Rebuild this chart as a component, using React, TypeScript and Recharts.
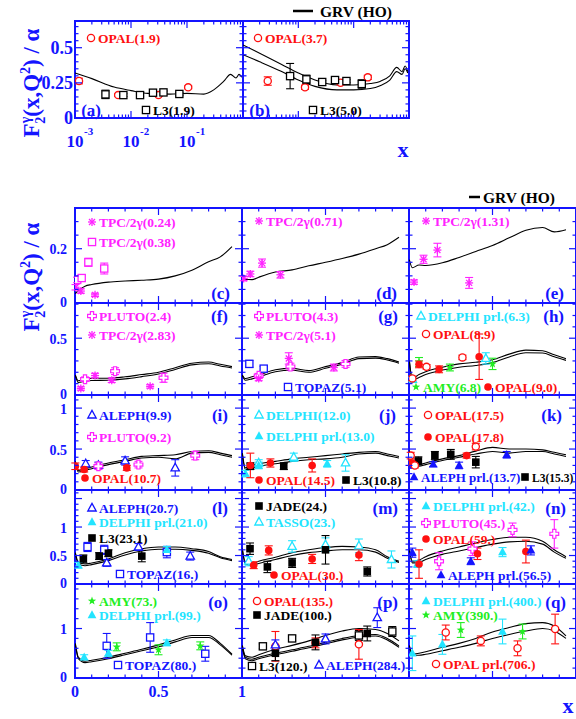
import React from 'react';
import { ComposedChart, Line, Scatter, XAxis, YAxis, ErrorBar, ReferenceArea } from 'recharts';

const BLUE = '#1414ff';
const RED = '#ff1010';
const MAG = '#ff22ff';
const CYAN = '#22e4ff';
const GREEN = '#22ee22';
const BLACK = '#000000';
const FONT = '"Liberation Serif", "DejaVu Serif", serif';

// x grids of the GRV (HO) curves
const LOG_X = [0.001, 0.002, 0.005, 0.01, 0.02, 0.05, 0.1, 0.2, 0.3, 0.45, 0.6, 0.75, 0.85, 0.95];
const LIN_X = [0.002, 0.02, 0.06, 0.1, 0.2, 0.3, 0.4, 0.5, 0.6, 0.7, 0.8, 0.87, 0.94];

// axis ticks
const LOG_TICKS = [0.001, 0.002, 0.003, 0.004, 0.005, 0.006, 0.007, 0.008, 0.009, 0.01, 0.02, 0.03, 0.04, 0.05, 0.06, 0.07, 0.08, 0.09, 0.1, 0.2, 0.3, 0.4, 0.5, 0.6, 0.7, 0.8, 0.9, 1];
const LOG_MAJOR = [0.001, 0.01, 0.1, 1];
const LOG_LABELS = [0.001, 0.01, 0.1];
const LIN_TICKS = [0, 0.1, 0.2, 0.3, 0.4, 0.5, 0.6, 0.7, 0.8, 0.9, 1];
const LIN_MAJOR = [0, 0.5, 1];
const LIN_LABELS = [0, 0.5, 1];
const Y_TOP = [0, 0.05, 0.1, 0.15, 0.2, 0.25, 0.3, 0.35, 0.4, 0.45, 0.5, 0.55, 0.6, 0.65];
const Y_R1 = [0, 0.05, 0.1, 0.15, 0.2, 0.25, 0.3];
const Y_R2 = [0, 0.1, 0.2, 0.3, 0.4, 0.5, 0.6, 0.7, 0.8];
const Y_R3 = [0, 0.1, 0.2, 0.3, 0.4, 0.5, 0.6, 0.7, 0.8, 0.9, 1, 1.1];
const Y_R4 = [0, 0.1, 0.2, 0.3, 0.4, 0.5, 0.6, 0.7, 0.8, 0.9, 1, 1.1, 1.2, 1.3, 1.4, 1.5, 1.6];
const Y_R5 = [0, 0.2, 0.4, 0.6, 0.8, 1, 1.2, 1.4, 1.6, 1.8];

// GRV (HO) curves
const GRV_A = [0.32, 0.28, 0.22, 0.195, 0.175, 0.17, 0.175, 0.17, 0.2, 0.26, 0.31, 0.285, 0.31, 0.29];
const GRV_B_UP = [0.52, 0.46, 0.38, 0.32, 0.27, 0.235, 0.235, 0.245, 0.26, 0.3, 0.36, 0.33, 0.37, 0.33];
const GRV_B_LO = [0.45, 0.4, 0.33, 0.27, 0.225, 0.2, 0.2, 0.21, 0.23, 0.27, 0.33, 0.31, 0.35, 0.32];
const GRV_C = [0.035, 0.046, 0.062, 0.068, 0.077, 0.081, 0.084, 0.088, 0.1, 0.121, 0.152, 0.17, 0.208];
const GRV_D = [0.084, 0.087, 0.086, 0.095, 0.114, 0.122, 0.137, 0.15, 0.164, 0.18, 0.2, 0.215, 0.242];
const GRV_E = [0.16, 0.13, 0.14, 0.138, 0.148, 0.168, 0.19, 0.212, 0.24, 0.268, 0.278, 0.262, 0.27];
const GRV_F_UP = [0.177, 0.125, 0.142, 0.148, 0.148, 0.16, 0.18, 0.2, 0.24, 0.28, 0.29, 0.27, 0.25];
const GRV_F_LO = [0.17, 0.11, 0.122, 0.128, 0.13, 0.142, 0.162, 0.185, 0.225, 0.265, 0.275, 0.255, 0.238];
const GRV_G_UP = [0.177, 0.145, 0.16, 0.175, 0.222, 0.234, 0.215, 0.25, 0.285, 0.335, 0.338, 0.32, 0.29];
const GRV_G_LO = [0.17, 0.13, 0.142, 0.158, 0.205, 0.218, 0.2, 0.235, 0.27, 0.32, 0.325, 0.308, 0.28];
const GRV_H_UP = [0.305, 0.146, 0.18, 0.205, 0.245, 0.274, 0.288, 0.31, 0.36, 0.395, 0.39, 0.354, 0.32];
const GRV_H_LO = [0.3, 0.13, 0.155, 0.18, 0.22, 0.245, 0.26, 0.285, 0.335, 0.372, 0.37, 0.336, 0.305];
const GRV_I_UP = [0.35, 0.24, 0.26, 0.28, 0.33, 0.37, 0.41, 0.42, 0.43, 0.47, 0.48, 0.45, 0.42];
const GRV_I_LO = [0.34, 0.22, 0.24, 0.26, 0.31, 0.35, 0.39, 0.4, 0.38, 0.45, 0.46, 0.43, 0.4];
const GRV_J_UP = [0.45, 0.27, 0.3, 0.32, 0.35, 0.38, 0.4, 0.42, 0.44, 0.46, 0.47, 0.44, 0.41];
const GRV_J_LO = [0.44, 0.25, 0.27, 0.29, 0.32, 0.35, 0.37, 0.38, 0.4, 0.44, 0.45, 0.42, 0.39];
const GRV_K_UP = [0.48, 0.33, 0.31, 0.33, 0.38, 0.42, 0.475, 0.52, 0.5, 0.5, 0.49, 0.46, 0.43];
const GRV_K_LO = [0.47, 0.31, 0.29, 0.31, 0.36, 0.4, 0.44, 0.47, 0.45, 0.47, 0.47, 0.44, 0.41];
const GRV_L_UP = [0.55, 0.38, 0.35, 0.37, 0.44, 0.55, 0.62, 0.65, 0.65, 0.62, 0.57, 0.48, 0.43];
const GRV_L_LO = [0.54, 0.35, 0.32, 0.34, 0.41, 0.51, 0.58, 0.61, 0.61, 0.59, 0.54, 0.46, 0.41];
const GRV_M_UP = [0.62, 0.38, 0.36, 0.4, 0.47, 0.55, 0.6, 0.64, 0.66, 0.65, 0.6, 0.48, 0.4];
const GRV_M_LO = [0.6, 0.35, 0.33, 0.36, 0.43, 0.5, 0.55, 0.58, 0.6, 0.6, 0.56, 0.45, 0.38];
const GRV_N_UP = [0.62, 0.4, 0.42, 0.48, 0.58, 0.65, 0.72, 0.78, 0.82, 0.82, 0.75, 0.6, 0.48];
const GRV_N_LO = [0.6, 0.37, 0.38, 0.43, 0.52, 0.58, 0.64, 0.7, 0.74, 0.75, 0.7, 0.56, 0.45];
const GRV_O_UP = [0.7, 0.42, 0.34, 0.36, 0.42, 0.5, 0.58, 0.67, 0.77, 0.86, 0.86, 0.7, 0.48];
const GRV_O_LO = [0.68, 0.39, 0.31, 0.33, 0.39, 0.47, 0.55, 0.63, 0.73, 0.82, 0.82, 0.67, 0.46];
const GRV_P_TOP = [0.66, 0.45, 0.42, 0.47, 0.58, 0.66, 0.75, 0.86, 0.95, 1.0, 0.98, 0.9, 0.75];
const GRV_P_UP = [0.64, 0.42, 0.38, 0.42, 0.5, 0.57, 0.64, 0.72, 0.8, 0.86, 0.88, 0.8, 0.65];
const GRV_P_LO = [0.62, 0.39, 0.35, 0.39, 0.47, 0.54, 0.61, 0.69, 0.77, 0.83, 0.85, 0.77, 0.62];
const GRV_Q_UP = [0.66, 0.48, 0.5, 0.53, 0.62, 0.7, 0.8, 0.93, 1.02, 1.1, 1.12, 1.05, 0.85];
const GRV_Q_LO = [0.64, 0.46, 0.46, 0.48, 0.55, 0.62, 0.7, 0.8, 0.88, 0.95, 1.0, 0.95, 0.8];

// measurements [x, F2/alpha, error]
const A_OPAL = [[0.00118, 0.263, 0.02], [0.0059, 0.163, 0.01], [0.031, 0.163, 0.01], [0.105, 0.218, 0.01]];
const A_L3 = [[0.0035, 0.168, 0.03], [0.0073, 0.163, 0.01], [0.0145, 0.163, 0.01], [0.0247, 0.18, 0.01], [0.038, 0.182, 0.01], [0.073, 0.171, 0.01]];
const B_OPAL = [[0.0028, 0.263, 0.03], [0.0132, 0.218, 0.015], [0.058, 0.251, 0.015], [0.18, 0.289, 0.015]];
const B_L3 = [[0.0071, 0.298, 0.09], [0.014, 0.275, 0.03], [0.027, 0.256, 0.01], [0.046, 0.27, 0.01], [0.074, 0.263, 0.01], [0.14, 0.242, 0.03]];
const C_TPC024 = [[0.003, 0.058, 0.01], [0.035, 0.044, 0.008], [0.12, 0.03, 0.006]];
const C_TPC038 = [[0.013, 0.085, 0.01], [0.04, 0.092, 0.01], [0.08, 0.15, 0.015], [0.175, 0.127, 0.02]];
const D_TPC071 = [[0.01, 0.09, 0.008], [0.05, 0.107, 0.01], [0.12, 0.147, 0.015], [0.23, 0.104, 0.012]];
const E_TPC131 = [[0.03, 0.077, 0.008], [0.087, 0.161, 0.015], [0.17, 0.195, 0.025], [0.36, 0.074, 0.02]];
const F_PLUTO = [[0.06, 0.139, 0.02], [0.24, 0.21, 0.03], [0.53, 0.152, 0.04]];
const F_TPC = [[0.035, 0.057, 0.015], [0.12, 0.171, 0.02], [0.22, 0.13, 0.02], [0.45, 0.076, 0.015]];
const G_PLUTO = [[0.1, 0.17, 0.02], [0.29, 0.25, 0.03], [0.62, 0.274, 0.03]];
const G_TPC = [[0.1, 0.146, 0.02], [0.28, 0.322, 0.05], [0.55, 0.242, 0.03]];
const G_TOPAZ = [[0.044, 0.274, 0.03], [0.13, 0.232, 0.02]];
const H_DELPHI = [[0.02, 0.138, 0.02], [0.46, 0.322, 0.05]];
const H_OPAL89 = [[0.02, 0.146, 0.02], [0.105, 0.248, 0.02], [0.32, 0.331, 0.02]];
const H_AMY = [[0.06, 0.29, 0.04], [0.245, 0.242, 0.03], [0.5, 0.274, 0.05]];
const H_OPAL90 = [[0.06, 0.27, 0.03], [0.18, 0.226, 0.03], [0.42, 0.337, 0.2]];
const I_ALEPH = [[0.064, 0.32, 0.04], [0.14, 0.3, 0.04], [0.3, 0.355, 0.05], [0.6, 0.27, 0.1]];
const I_PLUTO = [[0.14, 0.29, 0.04], [0.38, 0.31, 0.04], [0.72, 0.42, 0.05]];
const I_OPAL = [[0.002, 0.29, 0.04], [0.055, 0.25, 0.03], [0.31, 0.27, 0.03]];
const J_DELPHI = [[0.1, 0.33, 0.04], [0.31, 0.4, 0.05], [0.62, 0.33, 0.1]];
const J_DELPHIPRL = [[0.02, 0.2, 0.04], [0.1, 0.3, 0.04], [0.51, 0.32, 0.04]];
const J_OPAL = [[0.05, 0.3, 0.15], [0.17, 0.33, 0.05], [0.42, 0.3, 0.08]];
const J_L3 = [[0.05, 0.29, 0.04], [0.25, 0.29, 0.04]];
const K_OPAL175 = [[0.01, 0.42, 0.04], [0.035, 0.3, 0.03], [0.4, 0.53, 0.04]];
const K_OPAL178 = [[0.02, 0.33, 0.03], [0.345, 0.42, 0.03]];
const K_ALEPH = [[0.02, 0.3, 0.03], [0.145, 0.315, 0.03], [0.3, 0.3, 0.04], [0.585, 0.43, 0.04]];
const K_L3 = [[0.056, 0.355, 0.05], [0.155, 0.42, 0.05], [0.25, 0.435, 0.06], [0.4, 0.34, 0.07]];
const L_ALEPH = [[0.19, 0.37, 0.06], [0.38, 0.65, 0.06], [0.69, 0.49, 0.07]];
const L_DELPHI = [[0.02, 0.33, 0.05], [0.55, 0.6, 0.06]];
const L_L3 = [[0.05, 0.44, 0.07], [0.145, 0.49, 0.06], [0.2, 0.54, 0.06], [0.4, 0.49, 0.1]];
const L_TOPAZ = [[0.075, 0.65, 0.08], [0.175, 0.6, 0.08], [0.55, 0.56, 0.1]];
const M_JADE = [[0.048, 0.62, 0.1], [0.152, 0.3, 0.1], [0.3, 0.37, 0.08], [0.5, 0.6, 0.25], [0.75, 0.22, 0.08]];
const M_TASSO = [[0.04, 0.4, 0.08], [0.3, 0.66, 0.1], [0.5, 0.69, 0.12], [0.7, 0.67, 0.12], [0.895, 0.43, 0.15]];
const M_OPAL = [[0.07, 0.33, 0.06], [0.16, 0.59, 0.08], [0.42, 0.44, 0.08], [0.7, 0.51, 0.1]];
const N_DELPHI = [[0.05, 0.35, 0.06], [0.56, 0.56, 0.08]];
const N_PLUTO = [[0.18, 0.4, 0.15], [0.38, 0.62, 0.12], [0.62, 0.95, 0.12], [0.87, 0.88, 0.25]];
const N_OPAL = [[0.06, 0.35, 0.25], [0.41, 0.53, 0.1], [0.7, 0.57, 0.2]];
const N_ALEPH = [[0.02, 0.55, 0.08], [0.37, 0.4, 0.06], [0.73, 0.59, 0.08]];
const O_AMY = [[0.25, 0.63, 0.08], [0.5, 0.57, 0.1], [0.75, 0.65, 0.08]];
const O_DELPHI = [[0.055, 0.42, 0.05], [0.2, 0.5, 0.06], [0.55, 0.71, 0.06]];
const O_TOPAZ = [[0.19, 0.65, 0.25], [0.45, 0.82, 0.3], [0.78, 0.49, 0.15]];
const P_OPAL = [[0.2, 0.64, 0.3], [0.44, 0.71, 0.1], [0.7, 0.68, 0.3]];
const P_JADE = [[0.2, 0.5, 0.15], [0.44, 0.72, 0.15], [0.75, 0.9, 0.15]];
const P_L3 = [[0.125, 0.64, 0.05], [0.3, 0.8, 0.05], [0.7, 0.86, 0.1], [0.9, 0.94, 0.1]];
const P_ALEPH = [[0.2, 0.67, 0.1], [0.5, 0.79, 0.1], [0.81, 1.22, 0.2]];
const Q_DELPHI = [[0.02, 0.5, 0.35], [0.2, 0.68, 0.2], [0.56, 0.94, 0.25]];
const Q_AMY = [[0.31, 0.97, 0.15], [0.68, 0.94, 0.15]];
const Q_OPAL = [[0.22, 0.92, 0.15], [0.43, 0.75, 0.1], [0.65, 0.6, 0.15], [0.875, 0.99, 0.3]];

// legends drawn in the panels: [cx, cy, marker, colour, text, font size]
const LEGENDS: [number, number, string, string, string, number?][] = [
  [91, 38, 'circleOpen', RED, 'OPAL(1.9)'],
  [146, 110, 'squareOpen', BLACK, 'L3(1.9)'],
  [258, 38, 'circleOpen', RED, 'OPAL(3.7)'],
  [313, 110, 'squareOpen', BLACK, 'L3(5.0)'],
  [92, 222, 'asterisk', MAG, 'TPC/2γ(0.24)'],
  [92, 242, 'squareOpen', MAG, 'TPC/2γ(0.38)'],
  [259, 221, 'asterisk', MAG, 'TPC/2γ(0.71)'],
  [426, 221, 'asterisk', MAG, 'TPC/2γ(1.31)'],
  [92, 316, 'cross', MAG, 'PLUTO(2.4)'],
  [92, 335, 'asterisk', MAG, 'TPC/2γ(2.83)'],
  [259, 316, 'cross', MAG, 'PLUTO(4.3)'],
  [259, 335, 'asterisk', MAG, 'TPC/2γ(5.1)'],
  [288, 387, 'squareOpen', BLUE, 'TOPAZ(5.1)'],
  [421, 316, 'triOpen', CYAN, 'DELPHI prl.(6.3)'],
  [426, 334, 'circleOpen', RED, 'OPAL(8.9)'],
  [416, 387, 'star', GREEN, 'AMY(6.8)'],
  [488, 387, 'circleFilled', RED, 'OPAL(9.0)'],
  [92, 415, 'triOpen', BLUE, 'ALEPH(9.9)'],
  [92, 437, 'cross', MAG, 'PLUTO(9.2)'],
  [85, 478, 'circleFilled', RED, 'OPAL(10.7)'],
  [259, 415, 'triOpen', CYAN, 'DELPHI(12.0)'],
  [259, 436, 'triFilled', CYAN, 'DELPHI prl.(13.0)'],
  [259, 480, 'circleFilled', RED, 'OPAL(14.5)'],
  [346, 480, 'squareFilled', BLACK, 'L3(10.8)'],
  [428, 415, 'circleOpen', RED, 'OPAL(17.5)'],
  [428, 437, 'circleFilled', RED, 'OPAL(17.8)'],
  [414, 477, 'triFilled', BLUE, 'ALEPH prl.(13.7)', 13],
  [525, 477, 'squareFilled', BLACK, 'L3(15.3)', 11.5],
  [92, 508, 'triOpen', BLUE, 'ALEPH(20.7)'],
  [92, 522, 'triFilled', CYAN, 'DELPHI prl.(21.0)'],
  [92, 538, 'squareFilled', BLACK, 'L3(23.1)'],
  [120, 574, 'squareOpen', BLUE, 'TOPAZ(16.)'],
  [259, 506, 'squareFilled', BLACK, 'JADE(24.)'],
  [259, 522, 'triOpen', CYAN, 'TASSO(23.)'],
  [274, 575, 'circleFilled', RED, 'OPAL(30.)'],
  [426, 506, 'triFilled', CYAN, 'DELPHI prl.(42.)'],
  [426, 523, 'cross', MAG, 'PLUTO(45.)'],
  [426, 539, 'circleFilled', RED, 'OPAL(59.)'],
  [441, 575, 'triFilled', BLUE, 'ALEPH prl.(56.5)'],
  [92, 601, 'star', GREEN, 'AMY(73.)'],
  [92, 615, 'triFilled', CYAN, 'DELPHI prl.(99.)'],
  [118, 665, 'squareOpen', BLUE, 'TOPAZ(80.)'],
  [257, 601, 'circleOpen', RED, 'OPAL(135.)'],
  [257, 615, 'squareFilled', BLACK, 'JADE(100.)'],
  [252, 666, 'squareOpen', BLACK, 'L3(120.)'],
  [319, 665, 'triOpen', BLUE, 'ALEPH(284.)'],
  [426, 601, 'triFilled', CYAN, 'DELPHI prl.(400.)'],
  [426, 615, 'star', GREEN, 'AMY(390.)'],
  [436, 664, 'circleOpen', RED, 'OPAL prl.(706.)'],
];

// panel letters: [right x, baseline, text]
const LETTERS: [number, number, string][] = [
  [101, 116, '(a)'], [270, 116, '(b)'],
  [230, 299, '(c)'], [397, 299, '(d)'], [564, 299, '(e)'],
  [228, 322, '(f)'], [398, 322, '(g)'], [564, 322, '(h)'],
  [228, 421, '(i)'], [396, 421, '(j)'], [562, 421, '(k)'],
  [228, 514, '(l)'], [398, 514, '(m)'], [566, 514, '(n)'],
  [228, 608, '(o)'], [398, 608, '(p)'], [566, 608, '(q)'],
];

function Mark({ kind, cx, cy, color }: { kind: string; cx: number; cy: number; color: string }) {
  const sw = 1.3;
  switch (kind) {
    case 'circleOpen':
      return <circle cx={cx} cy={cy} r={3.6} fill="#fff" stroke={color} strokeWidth={sw} />;
    case 'circleFilled':
      return <circle cx={cx} cy={cy} r={3.8} fill={color} />;
    case 'squareOpen':
      return <rect x={cx - 3.6} y={cy - 3.6} width={7.2} height={7.2} fill="#fff" stroke={color} strokeWidth={sw} />;
    case 'squareFilled':
      return <rect x={cx - 3.8} y={cy - 3.8} width={7.6} height={7.6} fill={color} />;
    case 'triOpen':
      return <polygon points={`${cx},${cy - 4.6} ${cx - 4.2},${cy + 3} ${cx + 4.2},${cy + 3}`} fill="#fff" stroke={color} strokeWidth={sw} />;
    case 'triFilled':
      return <polygon points={`${cx},${cy - 4.8} ${cx - 4.4},${cy + 3.2} ${cx + 4.4},${cy + 3.2}`} fill={color} />;
    case 'star': {
      const pts: string[] = [];
      for (let i = 0; i < 10; i++) {
        const r = i % 2 === 0 ? 4.4 : 1.8;
        const a = -Math.PI / 2 + (i * Math.PI) / 5;
        pts.push(`${cx + r * Math.cos(a)},${cy + r * Math.sin(a)}`);
      }
      return <polygon points={pts.join(' ')} fill={color} />;
    }
    case 'asterisk':
      return (
        <g stroke={color} strokeWidth={1.3}>
          <line x1={cx - 4} y1={cy} x2={cx + 4} y2={cy} />
          <line x1={cx} y1={cy - 4} x2={cx} y2={cy + 4} />
          <line x1={cx - 3} y1={cy - 3} x2={cx + 3} y2={cy + 3} />
          <line x1={cx - 3} y1={cy + 3} x2={cx + 3} y2={cy - 3} />
        </g>
      );
    case 'cross': {
      const a = 1.6, b = 4.4;
      const d = `M${cx - a},${cy - b}H${cx + a}V${cy - a}H${cx + b}V${cy + a}H${cx + a}V${cy + b}H${cx - a}V${cy + a}H${cx - b}V${cy - a}H${cx - a}Z`;
      return <path d={d} fill="#fff" stroke={color} strokeWidth={1.2} />;
    }
    default:
      return null;
  }
}

type Series = { data: number[][]; kind: string; color: string };
type PanelDef = {
  left: number; top: number; w: number; h: number; log?: boolean;
  yMax: number; yTicks: number[]; yMajor: number[]; yLabels?: number[];
  xLabels?: boolean; curves: number[][]; series: Series[];
};

const ML = 55, MR = 8, MT = 8, MB = 36;
const COL_L = [75, 242, 409];
const COL_W = 167;
const ROW_T = [208, 303, 395, 490, 584];
const ROW_H = [95, 92, 95, 94, 94];
const ROWS = [
  { yMax: 0.35, yTicks: Y_R1, yMajor: [0.2], yLabels: [0, 0.2] },
  { yMax: 0.81, yTicks: Y_R2, yMajor: [0.5], yLabels: [0, 0.5] },
  { yMax: 1.16, yTicks: Y_R3, yMajor: [0.5, 1], yLabels: [0, 0.5, 1] },
  { yMax: 1.65, yTicks: Y_R4, yMajor: [0.5, 1, 1.5], yLabels: [0, 0.5, 1] },
  { yMax: 1.9, yTicks: Y_R5, yMajor: [1], yLabels: [0, 1] },
];

const S = (data: number[][], kind: string, color: string): Series => ({ data, kind, color });

const GRID: { curves: number[][]; series: Series[] }[] = [
  { curves: [GRV_C], series: [S(C_TPC024, 'asterisk', MAG), S(C_TPC038, 'squareOpen', MAG)] },
  { curves: [GRV_D], series: [S(D_TPC071, 'asterisk', MAG)] },
  { curves: [GRV_E], series: [S(E_TPC131, 'asterisk', MAG)] },
  { curves: [GRV_F_UP, GRV_F_LO], series: [S(F_PLUTO, 'cross', MAG), S(F_TPC, 'asterisk', MAG)] },
  { curves: [GRV_G_UP, GRV_G_LO], series: [S(G_TOPAZ, 'squareOpen', BLUE), S(G_PLUTO, 'cross', MAG), S(G_TPC, 'asterisk', MAG)] },
  { curves: [GRV_H_UP, GRV_H_LO], series: [S(H_DELPHI, 'triOpen', CYAN), S(H_AMY, 'star', GREEN), S(H_OPAL89, 'circleOpen', RED), S(H_OPAL90, 'circleFilled', RED)] },
  { curves: [GRV_I_UP, GRV_I_LO], series: [S(I_ALEPH, 'triOpen', BLUE), S(I_PLUTO, 'cross', MAG), S(I_OPAL, 'circleFilled', RED)] },
  { curves: [GRV_J_UP, GRV_J_LO], series: [S(J_DELPHI, 'triOpen', CYAN), S(J_DELPHIPRL, 'triFilled', CYAN), S(J_L3, 'squareFilled', BLACK), S(J_OPAL, 'circleFilled', RED)] },
  { curves: [GRV_K_UP, GRV_K_LO], series: [S(K_L3, 'squareFilled', BLACK), S(K_ALEPH, 'triFilled', BLUE), S(K_OPAL178, 'circleFilled', RED), S(K_OPAL175, 'circleOpen', RED)] },
  { curves: [GRV_L_UP, GRV_L_LO], series: [S(L_TOPAZ, 'squareOpen', BLUE), S(L_L3, 'squareFilled', BLACK), S(L_ALEPH, 'triOpen', BLUE), S(L_DELPHI, 'triFilled', CYAN)] },
  { curves: [GRV_M_UP, GRV_M_LO], series: [S(M_TASSO, 'triOpen', CYAN), S(M_JADE, 'squareFilled', BLACK), S(M_OPAL, 'circleFilled', RED)] },
  { curves: [GRV_N_UP, GRV_N_LO], series: [S(N_DELPHI, 'triFilled', CYAN), S(N_PLUTO, 'cross', MAG), S(N_OPAL, 'circleFilled', RED), S(N_ALEPH, 'triFilled', BLUE)] },
  { curves: [GRV_O_UP, GRV_O_LO], series: [S(O_TOPAZ, 'squareOpen', BLUE), S(O_AMY, 'star', GREEN), S(O_DELPHI, 'triFilled', CYAN)] },
  { curves: [GRV_P_TOP, GRV_P_UP, GRV_P_LO], series: [S(P_L3, 'squareOpen', BLACK), S(P_OPAL, 'circleOpen', RED), S(P_JADE, 'squareFilled', BLACK), S(P_ALEPH, 'triOpen', BLUE)] },
  { curves: [GRV_Q_UP, GRV_Q_LO], series: [S(Q_DELPHI, 'triFilled', CYAN), S(Q_AMY, 'star', GREEN), S(Q_OPAL, 'circleOpen', RED)] },
];

const PANELS: PanelDef[] = [
  {
    left: 75, top: 21, w: 168, h: 97, log: true, yMax: 0.69, yTicks: Y_TOP, yMajor: [0.25, 0.5],
    yLabels: [0, 0.25, 0.5], xLabels: true, curves: [GRV_A],
    series: [S(A_OPAL, 'circleOpen', RED), S(A_L3, 'squareOpen', BLACK)],
  },
  {
    left: 243, top: 21, w: 166, h: 97, log: true, yMax: 0.69, yTicks: Y_TOP, yMajor: [0.25, 0.5],
    curves: [GRV_B_UP, GRV_B_LO],
    series: [S(B_OPAL, 'circleOpen', RED), S(B_L3, 'squareOpen', BLACK)],
  },
  ...GRID.map((g, i) => {
    const r = Math.floor(i / 3), c = i % 3;
    const row = ROWS[r];
    return {
      left: COL_L[c], top: ROW_T[r], w: COL_W, h: ROW_H[r],
      yMax: row.yMax, yTicks: row.yTicks, yMajor: row.yMajor,
      yLabels: c === 0 ? row.yLabels : undefined,
      xLabels: r === 4 && c === 0,
      curves: g.curves, series: g.series,
    } as PanelDef;
  }),
];

function Panel({ p }: { p: PanelDef }) {
  const W = p.w + ML + MR;
  const H = p.h + MT + MB;
  const L = ML, R = ML + p.w, T = MT, B = MT + p.h;
  const xs = p.log ? LOG_X : LIN_X;
  const xTicks = p.log ? LOG_TICKS : LIN_TICKS;
  const xMajor = p.log ? LOG_MAJOR : LIN_MAJOR;
  const xDom: [number, number] = p.log ? [0.001, 1] : [0, 1];

  const tick = (side: string) => (props: any) => {
    const v = props.payload.value;
    const c = props.payload.coordinate;
    const horiz = side === 'top' || side === 'bottom';
    const big = horiz ? xMajor.includes(v) : p.yMajor.includes(v);
    const len = big ? 7 : 3.5;
    let ln: React.ReactNode = null;
    if (side === 'bottom') ln = <line x1={c} y1={B} x2={c} y2={B - len} />;
    if (side === 'top') ln = <line x1={c} y1={T} x2={c} y2={T + len} />;
    if (side === 'left') ln = <line x1={L} y1={c} x2={L + len} y2={c} />;
    if (side === 'right') ln = <line x1={R} y1={c} x2={R - len} y2={c} />;
    let label: React.ReactNode = null;
    if (side === 'left' && p.yLabels && p.yLabels.includes(v)) {
      label = p.log ? (
        <text x={L - 2} y={c + 6} textAnchor="end" fontSize={18}>{String(v)}</text>
      ) : (
        <text x={L - 8} y={v === 0 ? c + 3.5 : c + 5.5} textAnchor="end" fontSize={14}>{String(v)}</text>
      );
    }
    if (side === 'bottom' && p.xLabels) {
      if (p.log && LOG_LABELS.includes(v)) {
        label = (
          <g>
            <text x={c} y={B + 29} textAnchor="middle" fontSize={17}>10</text>
            <text x={c + 9} y={B + 17} fontSize={11}>{String(Math.round(Math.log10(v)))}</text>
          </g>
        );
      } else if (!p.log && LIN_LABELS.includes(v)) {
        label = <text x={c} y={B + 19} textAnchor="middle" fontSize={16}>{String(v)}</text>;
      }
    }
    return (
      <g>
        <g stroke={BLUE} strokeWidth={1.2}>{ln}</g>
        {label && <g fill={BLUE} fontWeight="bold" fontFamily={FONT}>{label}</g>}
      </g>
    );
  };

  return (
    <div style={{ position: 'absolute', left: p.left - ML, top: p.top - MT }}>
      <ComposedChart width={W} height={H} margin={{ top: MT, right: MR, bottom: MB, left: ML }}>
        <XAxis xAxisId="x" dataKey="x" type="number" scale={p.log ? 'log' : 'linear'} domain={xDom} allowDataOverflow
          ticks={xTicks} interval={0} mirror axisLine={false} tickLine={false} tick={tick('bottom')} />
        <XAxis xAxisId="xt" orientation="top" dataKey="x" type="number" scale={p.log ? 'log' : 'linear'} domain={xDom} allowDataOverflow
          ticks={xTicks} interval={0} mirror axisLine={false} tickLine={false} tick={tick('top')} />
        <YAxis yAxisId="y" dataKey="y" type="number" domain={[0, p.yMax]} allowDataOverflow
          ticks={p.yTicks} interval={0} mirror axisLine={false} tickLine={false} tick={tick('left')} />
        <YAxis yAxisId="yr" orientation="right" dataKey="y" type="number" domain={[0, p.yMax]} allowDataOverflow
          ticks={p.yTicks} interval={0} mirror axisLine={false} tickLine={false} tick={tick('right')} />
        {p.curves.map((cv, i) => (
          <Line key={'c' + i} xAxisId="x" yAxisId="y" data={xs.map((x, j) => ({ x, y: cv[j] }))} dataKey="y"
            type="monotone" stroke={BLACK} strokeWidth={1.1} dot={false} activeDot={false} isAnimationActive={false} />
        ))}
        {p.series.map((s, i) => (
          <Scatter key={'s' + i} xAxisId="x" yAxisId="y" data={s.data.map(([x, y, e]) => ({ x, y, e }))} dataKey="y"
            isAnimationActive={false}
            shape={(props: any) => <Mark kind={s.kind} color={s.color} cx={props.cx} cy={props.cy} />}>
            <ErrorBar dataKey="e" direction="y" width={4} stroke={s.color} strokeWidth={1.1} isAnimationActive={false} />
          </Scatter>
        ))}
        <ReferenceArea xAxisId="x" yAxisId="y" x1={xDom[0]} x2={xDom[1]} y1={0} y2={p.yMax}
          fill="none" stroke={BLUE} strokeWidth={2} fillOpacity={0} ifOverflow="visible" />
      </ComposedChart>
    </div>
  );
}

function Title({ x, y }: { x: number; y: number }) {
  return (
    <text transform={`translate(${x},${y}) rotate(-90)`} textAnchor="middle" fill={BLUE}
      fontFamily={FONT} fontWeight="bold" fontSize={23}>
      <tspan>F</tspan>
      <tspan fontSize={14} dy={-9}>γ</tspan>
      <tspan fontSize={14} dx={-7} dy={15}>2</tspan>
      <tspan dy={-6}>(x,Q</tspan>
      <tspan fontSize={14} dy={-9}>2</tspan>
      <tspan dy={9}>) / α</tspan>
    </text>
  );
}

export default function App() {
  return (
    <div style={{ position: 'absolute', left: 0, top: 0, width: 576, height: 719, background: '#fff', overflow: 'hidden' }}>
      {PANELS.map((p, i) => <Panel key={i} p={p} />)}
      <svg width={576} height={719} style={{ position: 'absolute', left: 0, top: 0, pointerEvents: 'none' }}>
        <Title x={39} y={83} />
        <Title x={39} y={277} />
        <text x={403} y={157} textAnchor="middle" fill={BLUE} fontFamily={FONT} fontWeight="bold" fontSize={22}>x</text>
        <text x={568} y={713} textAnchor="middle" fill={BLUE} fontFamily={FONT} fontWeight="bold" fontSize={22}>x</text>
        <line x1={293} y1={11} x2={313} y2={11} stroke={BLACK} strokeWidth={2.5} />
        <text x={320} y={17} fontFamily={FONT} fontWeight="bold" fontSize={15.5} fill={BLACK}>GRV (HO)</text>
        <line x1={469} y1={197} x2={480} y2={197} stroke={BLACK} strokeWidth={2.5} />
        <text x={483} y={203} fontFamily={FONT} fontWeight="bold" fontSize={15.5} fill={BLACK}>GRV (HO)</text>
        {LEGENDS.map(([cx, cy, kind, color, label, fs], i) => (
          <g key={i}>
            <Mark kind={kind} color={color} cx={cx} cy={cy} />
            <text x={cx + 7} y={cy + 4.5} fill={color} fontFamily={FONT} fontWeight="bold" fontSize={fs || 13.5}>{label}</text>
          </g>
        ))}
        {LETTERS.map(([x, y, t], i) => (
          <text key={i} x={x} y={y} textAnchor="end" fill={BLUE} fontFamily={FONT} fontWeight="bold" fontSize={17}>{t}</text>
        ))}
      </svg>
    </div>
  );
}
